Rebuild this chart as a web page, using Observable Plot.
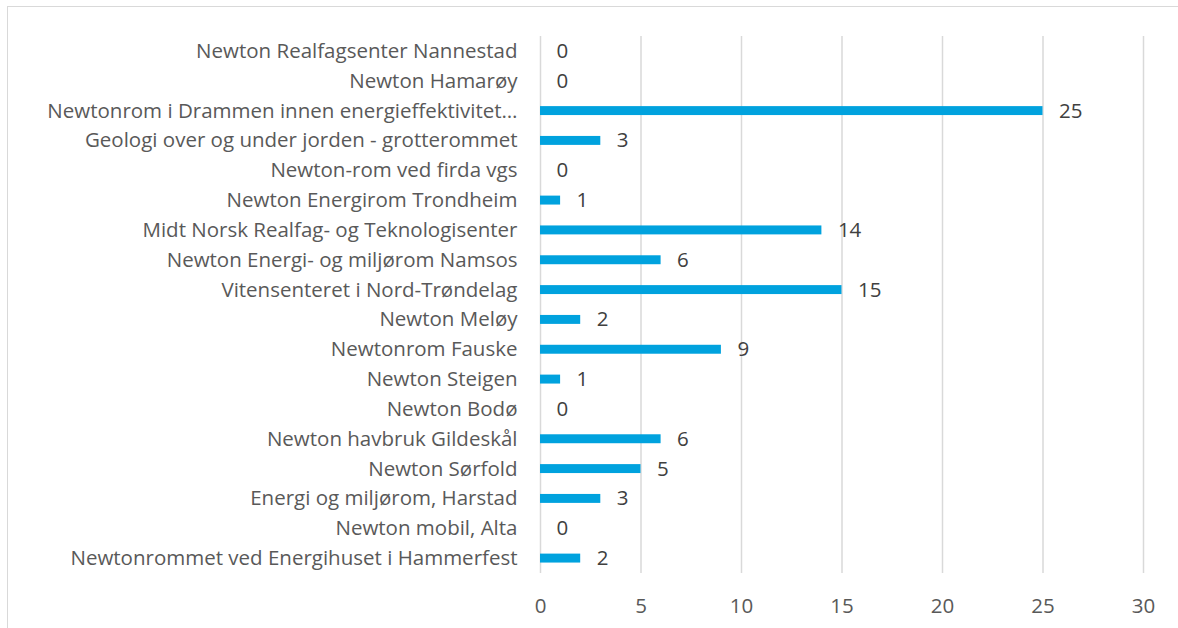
<!DOCTYPE html>
<html>
<head>
<meta charset="utf-8">
<script src="https://cdn.jsdelivr.net/npm/d3@7"></script>
<script src="https://cdn.jsdelivr.net/npm/@observablehq/plot@0.6"></script>
<style>
  html, body { margin: 0; padding: 0; background: #fff; }
  #wrap { position: relative; width: 1178px; height: 628px; }
  #frame { position: absolute; left: 7px; top: 6px; width: 1175px; height: 640px; border: 1.5px solid #d9d9d9; box-sizing: border-box; pointer-events: none; }
  #chart svg { display: block; }
</style>
</head>
<body>
<div id="wrap">
  <div id="chart"></div>
  <div id="frame"></div>
</div>
<script>
const categories = [
  "Newton Realfagsenter Nannestad",
  "Newton Hamarøy",
  "Newtonrom i Drammen innen energieffektivitet…",
  "Geologi over og under jorden - grotterommet",
  "Newton-rom ved firda vgs",
  "Newton Energirom Trondheim",
  "Midt Norsk Realfag- og Teknologisenter",
  "Newton Energi- og miljørom Namsos",
  "Vitensenteret i Nord-Trøndelag",
  "Newton Meløy",
  "Newtonrom Fauske",
  "Newton Steigen",
  "Newton Bodø",
  "Newton havbruk Gildeskål",
  "Newton Sørfold",
  "Energi og miljørom, Harstad",
  "Newton mobil, Alta",
  "Newtonrommet ved Energihuset i Hammerfest"
];
const values = [0, 0, 25, 3, 0, 1, 14, 6, 15, 2, 9, 1, 0, 6, 5, 3, 0, 2];
const xTicks = [0, 5, 10, 15, 20, 25, 30];

const data = categories.map((c, i) => ({category: c, value: values[i]}));
const font = "'Open Sans', sans-serif";

const chart = Plot.plot({
  width: 1178,
  height: 628,
  marginLeft: 540,
  marginRight: 35,
  marginTop: 36,
  marginBottom: 55,
  style: {fontFamily: font, background: "transparent"},
  x: {domain: [0, 30], ticks: xTicks, label: null},
  y: {domain: categories, label: null, paddingInner: 0.7, paddingOuter: 0.35, round: false},
  marks: [
    Plot.gridX(xTicks, {stroke: "#d9d9d9", strokeOpacity: 1, strokeWidth: 1.5}),
    Plot.barX(data, {x: "value", y: "category", fill: "#00a2de"}),
    Plot.text(data, {x: "value", y: "category", text: d => String(d.value), dx: 16, textAnchor: "start", fill: "#404040", fontSize: 20.5}),
    Plot.axisX(xTicks, {tickSize: 0, tickPadding: 25, fontSize: 20.5, color: "#595959", tickFormat: d => String(d), label: null}),
    Plot.axisY({tickSize: 0, tickPadding: 23, fontSize: 20.5, color: "#595959", label: null})
  ]
});
document.getElementById("chart").appendChild(chart);
</script>
</body>
</html>
